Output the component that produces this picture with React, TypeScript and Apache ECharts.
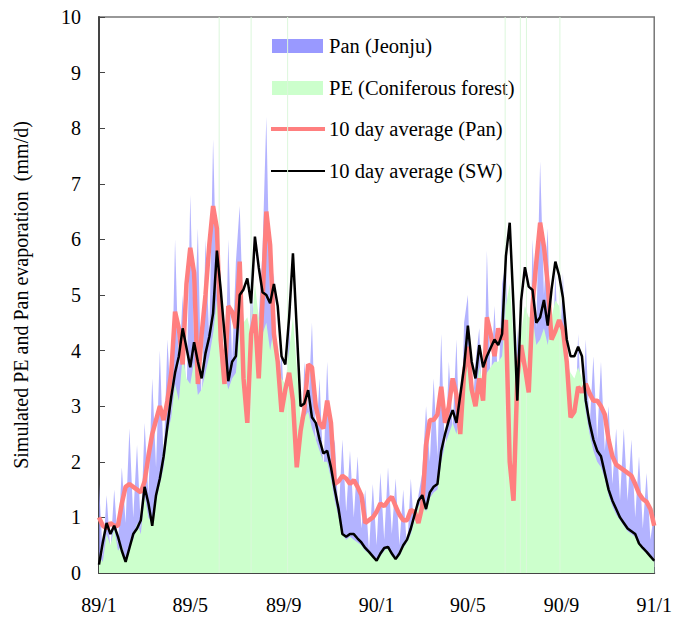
import React, { useEffect, useRef } from "react";
import * as echarts from "echarts";

// Values are sampled every 5 days from 1989-01-01 (day 0) to 1991-01-01 (day 730).
const STEP_DAYS = 5;

// Daily pan evaporation, Jeonju (mm/d)
const panJeonju = [
  1.6, 0.3, 1.4, 0.4, 1.5, 0.5, 1.9, 0.9, 2.6, 1.0,
  2.3, 0.8, 2.7, 1.4, 3.5, 1.9, 4.0, 2.0, 4.2, 2.9,
  6.0, 3.6, 5.0, 3.0, 6.8, 4.2, 6.2, 3.0, 6.0, 4.2,
  7.8, 5.0, 5.3, 2.8, 6.0, 3.8, 5.6, 6.6, 4.4, 2.0,
  5.6, 3.6, 4.6, 5.8, 8.2, 4.8, 5.4, 3.0, 4.0, 2.6,
  4.6, 2.2, 2.8, 1.6, 3.8, 2.9, 4.5, 2.3, 3.5, 1.8,
  3.8, 2.0, 2.4, 1.0, 2.4, 1.1, 2.2, 1.0, 2.1, 0.8,
  1.5, 0.4, 1.6, 0.5, 1.8, 0.6, 1.9, 0.7, 1.7, 0.5,
  1.5, 0.4, 1.7, 0.6, 1.4, 1.8, 3.0, 2.0, 3.5, 2.1,
  4.3, 2.0, 3.8, 2.6, 4.2, 1.9, 4.5, 5.0, 2.6, 3.8,
  4.4, 2.3, 5.8, 3.4, 4.8, 3.3, 5.2, 5.6, 2.6, 1.0,
  4.4, 3.2, 4.8, 2.6, 6.0, 4.4, 7.4, 5.0, 6.2, 3.4,
  5.4, 3.6, 5.4, 3.0, 3.6, 2.2, 4.3, 2.6, 4.2, 2.6,
  3.9, 2.4, 3.8, 2.2, 3.0, 1.6, 2.6, 1.3, 2.6, 1.3,
  2.4, 1.0, 2.1, 0.8, 1.8, 0.6, 1.1,
];

// Simulated potential evaporation, coniferous forest (mm/d)
const peConiferous = [
  0.3, 0.2, 0.7, 0.5, 0.8, 0.4, 0.5, 0.2, 0.5, 0.6,
  0.9, 0.7, 1.4, 1.0, 0.9, 1.3, 1.6, 1.9, 2.5, 2.8,
  3.4, 3.1, 3.9, 3.5, 3.4, 3.8, 3.2, 3.3, 3.6, 3.9,
  4.3, 4.9, 4.3, 3.6, 3.3, 3.5, 3.6, 4.4, 4.5, 4.6,
  4.3, 5.2, 4.6, 4.3, 4.5, 4.0, 4.4, 4.0, 3.5, 3.4,
  4.0, 4.6, 3.7, 2.8, 2.8, 2.9, 2.6, 2.4, 2.2, 2.0,
  2.0, 1.7, 1.3, 1.0, 0.7, 0.6, 0.65, 0.6, 0.55, 0.5,
  0.4, 0.35, 0.3, 0.25, 0.3, 0.4, 0.45, 0.3, 0.25, 0.3,
  0.45, 0.55, 0.7, 0.95, 1.2, 1.3, 1.1, 1.35, 1.45, 1.5,
  2.0, 2.3, 2.5, 2.7, 2.5, 2.9, 3.3, 3.9, 3.5, 3.2,
  3.7, 3.4, 3.6, 3.7, 3.8, 3.8, 3.9, 4.8, 5.2, 4.2,
  3.0, 4.3, 4.8, 4.6, 4.6, 4.1, 4.2, 4.4, 4.1, 4.6,
  4.9, 4.8, 4.4, 3.8, 3.6, 3.5, 3.7, 3.5, 2.9, 2.5,
  2.2, 2.0, 1.9, 1.7, 1.4, 1.2, 1.05, 0.95, 0.85, 0.75,
  0.7, 0.65, 0.5, 0.42, 0.35, 0.28, 0.2,
];

// Single days on which PE runs off the top of the scale
const peOffScaleDays = [158, 200, 248, 534, 554, 562, 606];
const peOffScaleValue = 10;

// 10 day running mean of pan evaporation (mm/d)
const panTenDay = [
  1.0, 0.85, 0.8, 0.9, 0.85, 0.85, 1.25, 1.55, 1.6, 1.55,
  1.5, 1.45, 1.65, 2.1, 2.5, 2.75, 3.0, 2.75, 3.1, 3.6,
  4.7, 4.4, 3.75, 5.2, 5.85, 5.4, 3.4, 4.3, 5.0, 5.9,
  6.6, 6.2, 4.2, 3.4, 4.8, 4.7, 4.4, 5.6, 3.5, 2.7,
  4.3, 4.65, 3.5, 4.9, 6.5, 5.9, 4.3, 3.8, 2.9, 3.3,
  3.6, 3.1, 1.9, 2.55, 2.95, 3.75, 3.7, 3.0, 2.7, 2.6,
  3.1, 2.7, 1.6, 1.65, 1.75, 1.7, 1.6, 1.67, 1.55, 1.4,
  0.9, 0.95, 1.0, 1.1, 1.25, 1.2, 1.3, 1.37, 1.2, 1.05,
  0.95, 0.95, 1.13, 1.1, 0.9, 1.2, 2.3, 2.75, 2.75, 2.85,
  3.35, 2.7, 3.0, 3.5, 3.2, 2.5, 3.6, 4.07, 3.3, 3.0,
  3.5, 3.1, 4.6, 4.3, 3.9, 4.4, 4.2, 4.55, 2.0, 1.3,
  3.5, 4.1, 3.7, 3.25, 4.8, 5.6, 6.3, 5.87, 5.2, 4.2,
  4.35, 4.55, 4.37, 3.8, 2.8, 2.9, 3.35, 3.25, 3.4, 3.23,
  3.1, 3.1, 3.0, 2.85, 2.4, 2.1, 1.95, 1.9, 1.85, 1.8,
  1.75, 1.6, 1.43, 1.33, 1.28, 1.15, 0.85,
];

// 10 day running mean of simulated soil-water evaporation (mm/d)
const swTenDay = [
  0.15, 0.55, 0.9, 0.7, 0.85, 0.65, 0.4, 0.2, 0.45, 0.7,
  0.8, 0.95, 1.55, 1.25, 0.85, 1.4, 1.7, 2.1, 2.65, 3.17,
  3.6, 3.9, 4.4, 4.05, 3.7, 4.15, 3.8, 3.5, 3.95, 4.25,
  4.67, 5.8, 5.1, 4.3, 3.45, 3.8, 3.9, 5.0, 5.1, 5.3,
  4.85, 6.05, 5.5, 5.05, 5.0, 4.85, 5.2, 4.8, 3.9, 3.75,
  4.6, 5.75, 4.4, 3.0, 3.05, 3.29, 2.8, 2.7, 2.4, 2.15,
  2.2, 1.9, 1.5, 1.15, 0.7, 0.65, 0.7, 0.7, 0.62, 0.55,
  0.45, 0.38, 0.3, 0.22, 0.35, 0.45, 0.47, 0.35, 0.25, 0.35,
  0.5, 0.6, 0.8, 1.05, 1.3, 1.4, 1.15, 1.45, 1.55, 1.6,
  2.2, 2.5, 2.75, 2.93, 2.7, 3.2, 3.7, 4.45, 3.8, 3.5,
  4.1, 3.7, 3.9, 4.05, 4.2, 4.1, 4.3, 5.7, 6.3, 4.8,
  3.1, 4.9, 5.5, 5.15, 5.09, 4.5, 4.6, 4.91, 4.45, 5.1,
  5.6, 5.35, 4.95, 4.2, 3.9, 3.9, 4.07, 3.9, 3.1, 2.7,
  2.4, 2.2, 2.1, 1.8, 1.5, 1.3, 1.15, 1.0, 0.9, 0.8,
  0.75, 0.7, 0.53, 0.45, 0.38, 0.3, 0.22,
];

// Month starts (day offsets) for the minor ticks, and the labelled ones
const monthStartDays = [
  0, 31, 59, 90, 120, 151, 181, 212, 243, 273, 304, 334,
  365, 396, 424, 455, 485, 516, 546, 577, 608, 638, 669, 699, 730,
];
const labelDays = [0, 120, 243, 365, 485, 608, 730];
const labelTexts = ["89/1", "89/5", "89/9", "90/1", "90/5", "90/9", "91/1"];

const seriesNames = [
  "Pan (Jeonju)",
  "PE (Coniferous forest)",
  "10 day average (Pan)",
  "10 day average (SW)",
];

const FONT = "'Liberation Serif', 'Times New Roman', serif";
const BLUE = "#9999ff";
const GREEN = "#ccffcc";
const RED = "#ff7f7f";
const BLACK = "#000000";

const pairs = (vals: number[]) => vals.map((v, i) => [i * STEP_DAYS, v]);

export default function App() {
  const ref = useRef<HTMLDivElement>(null);

  useEffect(() => {
    document.body.style.margin = "0";
    if (!ref.current) return;
    const chart = echarts.init(ref.current, undefined, { renderer: "svg" });

    const legendX = 272;
    const legendTextX = 329;
    const legendRows = [46, 88, 129, 171];
    const legend: any[] = [
      { type: "rect", shape: { x: legendX, y: legendRows[0] - 7, width: 51, height: 14 }, style: { fill: BLUE } },
      { type: "rect", shape: { x: legendX, y: legendRows[1] - 7, width: 51, height: 14 }, style: { fill: GREEN } },
      { type: "line", shape: { x1: legendX - 1, y1: legendRows[2], x2: legendX + 53, y2: legendRows[2] }, style: { stroke: RED, lineWidth: 4 } },
      { type: "line", shape: { x1: legendX - 1, y1: legendRows[3], x2: legendX + 53, y2: legendRows[3] }, style: { stroke: BLACK, lineWidth: 2.2 } },
    ];
    seriesNames.forEach((name, i) => {
      legend.push({
        type: "text",
        x: legendTextX,
        y: legendRows[i],
        style: { text: name, font: `20.5px ${FONT}`, fill: "#000", textVerticalAlign: "middle" },
      });
    });

    chart.setOption({
      animation: false,
      backgroundColor: "#ffffff",
      grid: {
        left: 99,
        right: 15,
        top: 17,
        bottom: 45,
        show: true,
        borderColor: "#777",
        borderWidth: 1.5,
        backgroundColor: "transparent",
      },
      xAxis: {
        type: "value",
        min: 0,
        max: 730,
        axisLine: { show: true, lineStyle: { color: "#444", width: 2 } },
        axisTick: {
          show: true,
          inside: true,
          length: 6,
          customValues: monthStartDays,
          lineStyle: { color: "#444", width: 1 },
        },
        axisLabel: {
          customValues: labelDays,
          margin: 22,
          color: "#000",
          fontFamily: FONT,
          fontSize: 20,
          formatter: (v: number) => {
            const idx = labelDays.indexOf(Math.round(v));
            return idx >= 0 ? labelTexts[idx] : "";
          },
        },
        splitLine: { show: false },
      },
      yAxis: {
        type: "value",
        min: 0,
        max: 10,
        interval: 1,
        name: "Simulated PE and Pan evaporation  (mm/d)",
        nameLocation: "middle",
        nameGap: 68,
        nameTextStyle: { fontFamily: FONT, fontSize: 20, color: "#000" },
        axisLine: { show: true, lineStyle: { color: "#444", width: 2 } },
        axisTick: { show: true, inside: true, length: 6, lineStyle: { color: "#444", width: 1 } },
        axisLabel: { margin: 18, color: "#000", fontFamily: FONT, fontSize: 20 },
        splitLine: { show: false },
      },
      series: [
        {
          name: seriesNames[0],
          type: "line",
          data: pairs(panJeonju),
          showSymbol: false,
          lineStyle: { width: 0 },
          areaStyle: { color: BLUE, opacity: 0.75 },
          z: 1,
        },
        {
          name: seriesNames[1],
          type: "line",
          data: pairs(peConiferous),
          showSymbol: false,
          lineStyle: { width: 0 },
          areaStyle: { color: GREEN, opacity: 1 },
          z: 2,
        },
        {
          name: "PE off scale",
          type: "bar",
          data: peOffScaleDays.map((d) => [d, peOffScaleValue]),
          barWidth: 1,
          itemStyle: { color: "#dcf7dc" },
          z: 2,
        },
        {
          name: seriesNames[2],
          type: "line",
          data: pairs(panTenDay),
          showSymbol: false,
          lineStyle: { color: RED, width: 4.5 },
          z: 3,
        },
        {
          name: seriesNames[3],
          type: "line",
          data: pairs(swTenDay),
          showSymbol: false,
          lineStyle: { color: BLACK, width: 2.5 },
          z: 4,
        },
      ],
      graphic: legend,
    });

    return () => chart.dispose();
  }, []);

  return <div ref={ref} style={{ width: 675, height: 618 }} />;
}
